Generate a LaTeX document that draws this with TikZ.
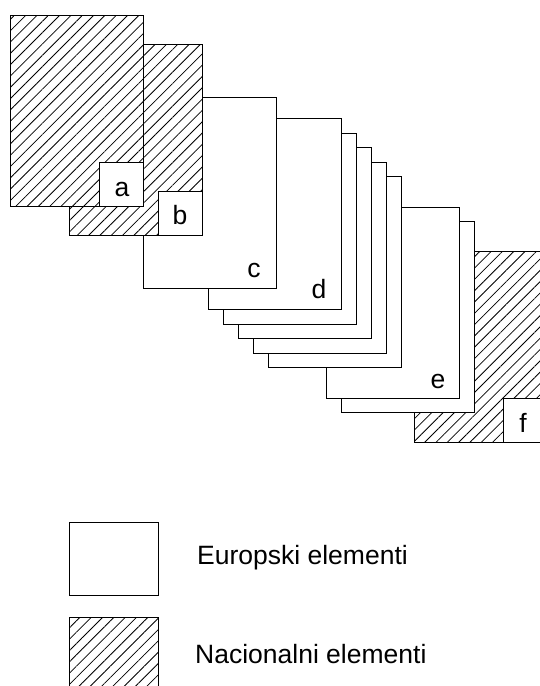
\documentclass[tikz,border=0pt]{standalone}
\usepackage{fontspec}
\setmainfont{Liberation Sans}
\usetikzlibrary{patterns.meta,positioning}

\tikzset{
    sheet/.style={draw, line width=1pt, fill=white, anchor=north west, inner sep=0pt,
        minimum width=133pt, minimum height=191pt},
    national/.style={sheet, postaction={pattern={Lines[angle=45,distance=8pt,line width=0.8pt]}}},
    tag/.style={draw, line width=1pt, fill=white, anchor=south east, inner sep=0pt, minimum size=44pt},
    letter/.style={anchor=base, inner sep=0pt, font=\fontsize{26.5}{30}\selectfont},
}

\begin{document}
\begin{tikzpicture}[x=1pt, y=-1pt]
    \useasboundingbox (0,0) rectangle (540,686);
    \clip (0,0) rectangle (540,686);

    % back to front
    \node[national] (f) at (414,251) {};
    \node[tag] (tf) at (f.south east) {};
    \node[sheet] (e2) at (341,221) {};
    \node[sheet] (e) at (326,207) {};
    \node[sheet] (d5) at (268,176) {};
    \node[sheet] (d4) at (253,162) {};
    \node[sheet] (d3) at (238,147) {};
    \node[sheet] (d2) at (223,133) {};
    \node[sheet] (d) at (208,118) {};
    \node[sheet] (c) at (143,97) {};
    \node[national] (b) at (69,44) {};
    \node[tag] (tb) at (b.south east) {};
    \node[national] (a) at (10,15) {};
    \node[tag] (ta) at (a.south east) {};

    \node[letter] (la) at ([shift={(-22,-11)}]a.south east) {a};
    \node[letter] (lb) at ([shift={(-23,-12)}]b.south east) {b};
    \node[letter] (lc) at ([shift={(-23,-12)}]c.south east) {c};
    \node[letter] (ld) at ([shift={(-23,-12)}]d.south east) {d};
    \node[letter] (le) at ([shift={(-22,-11)}]e.south east) {e};
    \node[letter] (lf) at ([shift={(-25,-11)}]f.south east) {f};

    % legend
    \node[sheet, minimum width=89pt, minimum height=73pt] (keyeu) at (69,522) {};
    \node[national, minimum width=89pt, minimum height=73pt] (keynat) at (69,617) {};
    \node[letter, anchor=base west] (txteu) at (197,564) {Europski elementi};
    \node[letter, anchor=base west] (txtnat) at (195,663) {Nacionalni elementi};
\end{tikzpicture}
\end{document}
